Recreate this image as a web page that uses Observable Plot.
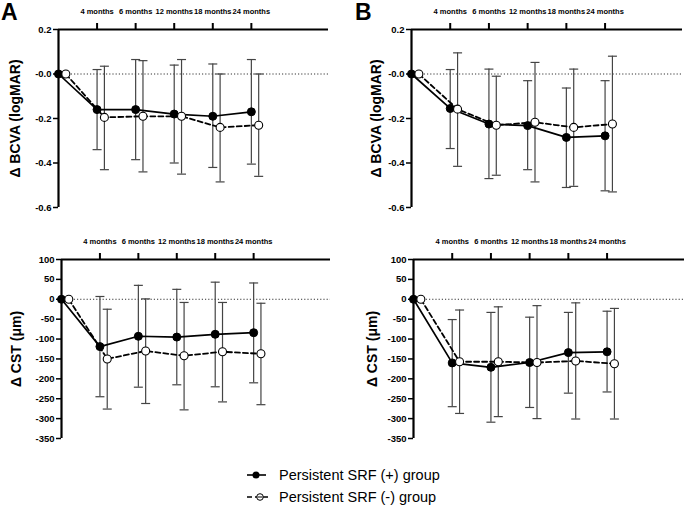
<!DOCTYPE html>
<html><head><meta charset="utf-8">
<script src="https://cdn.jsdelivr.net/npm/d3@7"></script>
<script src="https://cdn.jsdelivr.net/npm/@observablehq/plot@0.6"></script>
<style>
body{margin:0;background:#fff;}
#root{position:relative;width:685px;height:506px;overflow:hidden;font-family:"Liberation Sans",Arial,sans-serif;color:#000;}
.panel{position:absolute;}
.letter{position:absolute;font-weight:bold;font-size:23px;line-height:18px;}
.legtext{position:absolute;left:279px;font-size:14.5px;line-height:20px;white-space:nowrap;}
</style></head><body><div id="root"></div>
<script>
// ---- data ----
const timepoints = [0, 1, 2, 3, 4, 5];
const monthTicks = [1, 2, 3, 4, 5];
const monthLabels = ["4 months", "6 months", "12 months", "18 months", "24 months"];
const seriesNames = ["Persistent SRF (+) group", "Persistent SRF (-) group"];

const bcvaTicks = [0.2, 0, -0.2, -0.4, -0.6];
const bcvaTickLabels = ["0.2", "-0.0", "-0.2", "-0.4", "-0.6"];
const cstTicks = [100, 50, 0, -50, -100, -150, -200, -250, -300, -350];
const cstTickLabels = ["100", "50", "0", "-50", "-100", "-150", "-200", "-250", "-300", "-350"];

// Panel A – BCVA
const bcvaA_posMean = [0, -0.16, -0.16, -0.18, -0.19, -0.17];
const bcvaA_posLo   = [0, -0.34, -0.385, -0.40, -0.42, -0.405];
const bcvaA_posHi   = [0, 0.02, 0.065, 0.04, 0.045, 0.065];
const bcvaA_negMean = [0, -0.195, -0.19, -0.19, -0.24, -0.23];
const bcvaA_negLo   = [0, -0.43, -0.44, -0.45, -0.485, -0.46];
const bcvaA_negHi   = [0, 0.035, 0.06, 0.065, 0.0, 0.0];
// Panel B – BCVA
const bcvaB_posMean = [0, -0.155, -0.225, -0.232, -0.285, -0.278];
const bcvaB_posLo   = [0, -0.335, -0.47, -0.43, -0.51, -0.525];
const bcvaB_posHi   = [0, 0.02, 0.022, -0.03, -0.063, -0.03];
const bcvaB_negMean = [0, -0.158, -0.23, -0.217, -0.24, -0.225];
const bcvaB_negLo   = [0, -0.415, -0.455, -0.485, -0.505, -0.53];
const bcvaB_negHi   = [0, 0.095, -0.01, 0.052, 0.022, 0.08];
// Panel A – CST
const cstA_posMean = [0, -119, -93, -95, -88, -84];
const cstA_posLo   = [0, -245, -221, -215, -220, -210];
const cstA_posHi   = [0, 7, 35, 25, 43, 41];
const cstA_negMean = [0, -150, -130, -142, -132, -137];
const cstA_negLo   = [0, -276, -262, -278, -258, -265];
const cstA_negHi   = [0, -25, 1, -8, -8, -10];
// Panel B – CST
const cstB_posMean = [0, -160, -171, -159, -134, -132];
const cstB_posLo   = [0, -270, -309, -272, -236, -233];
const cstB_posHi   = [0, -51, -33, -45, -33, -30];
const cstB_negMean = [0, -157, -157, -159, -155, -162];
const cstB_negLo   = [0, -287, -295, -300, -301, -301];
const cstB_negHi   = [0, -27, -19, -16, -9, -23];

// ---- drawing ----
const dashOffset = 0.19;
const cap = {draw(ctx, size) { const w = Math.sqrt(size / Math.PI); ctx.moveTo(-w, 0); ctx.lineTo(w, 0); }};
const root = document.getElementById("root");

function panel(o) {
  const rows = (mean, lo, hi, off) => mean.map((m, i) => ({x: timepoints[i] + off, y: m, lo: lo[i], hi: hi[i], i}));
  const P = rows(o.pm, o.pl, o.ph, 0);
  const N = rows(o.nm, o.nl, o.nh, dashOffset);
  const bars = [...P, ...N].filter(d => d.i > 0);
  const [ymin, ymax] = o.yDomain;
  const chart = Plot.plot({
    width: o.width, height: o.height,
    marginLeft: o.mL, marginRight: o.mR, marginTop: 29, marginBottom: o.mB,
    x: {domain: [0, 7], axis: null},
    y: {domain: o.yDomain, axis: null},
    style: {fontFamily: "'Liberation Sans', Arial, sans-serif", background: "transparent", overflow: "visible", color: "#000"},
    marks: [
      Plot.ruleY([0], {stroke: "#000", strokeWidth: 0.8, strokeDasharray: "1.2,2"}),
      Plot.ruleX(bars, {x: "x", y1: "lo", y2: "hi", stroke: "#444", strokeWidth: 1.2}),
      Plot.dot(bars, {x: "x", y: "lo", symbol: cap, r: 4.5, stroke: "#444", strokeWidth: 1.2, fill: "none"}),
      Plot.dot(bars, {x: "x", y: "hi", symbol: cap, r: 4.5, stroke: "#444", strokeWidth: 1.2, fill: "none"}),
      Plot.line(P, {x: "x", y: "y", stroke: "#000", strokeWidth: 1.7}),
      Plot.line(N, {x: "x", y: "y", stroke: "#000", strokeWidth: 1.8, strokeDasharray: "5,3"}),
      Plot.dot(P, {x: "x", y: "y", r: 4, fill: "#000", stroke: "#000", strokeWidth: 1}),
      Plot.dot(N, {x: "x", y: "y", r: 4, fill: "#fff", stroke: "#000", strokeWidth: 1.1}),
      Plot.ruleX([0], {y1: ymin, y2: ymax, stroke: "#000", strokeWidth: 2.2}),
      Plot.ruleY([ymax], {stroke: "#000", strokeWidth: 2.2}),
      Plot.axisY({ticks: o.yTicks, tickFormat: d => o.yTickLabels[o.yTicks.indexOf(d)], tickSize: 5, tickPadding: 2,
                  strokeWidth: 1.5, fontSize: 9.5, fontWeight: "bold", label: null}),
      Plot.axisX({anchor: "top", ticks: monthTicks, tickFormat: d => monthLabels[monthTicks.indexOf(d)],
                  tickSize: 7, tickPadding: 9, strokeWidth: 2, fontSize: 7.5, fontWeight: "bold", label: null}),
      Plot.text([o.yLabel], {text: d => d, frameAnchor: "left", textAnchor: "middle", lineAnchor: "middle",
                  dx: o.labelX - o.mL, rotate: -90, fontSize: 14, fontWeight: "bold", fill: "#000"})
    ]
  });
  chart.classList.add("panel");
  chart.style.left = o.left + "px";
  chart.style.top = o.top + "px";
  root.appendChild(chart);
}

panel({left: 0, top: 0, width: 340, height: 225, mL: 58, mR: 12, mB: 18,
  yDomain: [-0.6, 0.2], yTicks: bcvaTicks, yTickLabels: bcvaTickLabels, yLabel: "Δ BCVA (logMAR)", labelX: 15,
  pm: bcvaA_posMean, pl: bcvaA_posLo, ph: bcvaA_posHi, nm: bcvaA_negMean, nl: bcvaA_negLo, nh: bcvaA_negHi});
panel({left: 340, top: 0, width: 345, height: 225, mL: 71, mR: 3, mB: 18,
  yDomain: [-0.6, 0.2], yTicks: bcvaTicks, yTickLabels: bcvaTickLabels, yLabel: "Δ BCVA (logMAR)", labelX: 36,
  pm: bcvaB_posMean, pl: bcvaB_posLo, ph: bcvaB_posHi, nm: bcvaB_negMean, nl: bcvaB_negLo, nh: bcvaB_negHi});
panel({left: 0, top: 230, width: 340, height: 225, mL: 61, mR: 10, mB: 17,
  yDomain: [-350, 100], yTicks: cstTicks, yTickLabels: cstTickLabels, yLabel: "Δ CST (μm)", labelX: 16,
  pm: cstA_posMean, pl: cstA_posLo, ph: cstA_posHi, nm: cstA_negMean, nl: cstA_negLo, nh: cstA_negHi});
panel({left: 340, top: 230, width: 345, height: 225, mL: 73, mR: 1, mB: 17,
  yDomain: [-350, 100], yTicks: cstTicks, yTickLabels: cstTickLabels, yLabel: "Δ CST (μm)", labelX: 32,
  pm: cstB_posMean, pl: cstB_posLo, ph: cstB_posHi, nm: cstB_negMean, nl: cstB_negLo, nh: cstB_negHi});

// panel letters
[["A", 1], ["B", 355]].forEach(([t, x]) => {
  const d = document.createElement("div"); d.className = "letter"; d.textContent = t;
  d.style.left = x + "px"; d.style.top = "3px"; root.appendChild(d);
});

// legend
const ns = "http://www.w3.org/2000/svg";
const leg = document.createElementNS(ns, "svg");
leg.setAttribute("width", 34); leg.setAttribute("height", 40);
leg.style.position = "absolute"; leg.style.left = "244px"; leg.style.top = "465px";
leg.innerHTML =
  '<line x1="3" x2="22" y1="10" y2="10" stroke="#000" stroke-width="1.6"/>' +
  '<circle cx="12" cy="10" r="3.5" fill="#000"/>' +
  '<line x1="3" x2="25" y1="32" y2="32" stroke="#000" stroke-width="1.5" stroke-dasharray="5,3"/>' +
  '<circle cx="16" cy="32" r="3.3" fill="#fff" stroke="#000" stroke-width="1"/>' +
  '<line x1="13.5" x2="18.5" y1="32" y2="32" stroke="#000" stroke-width="1"/>';
root.appendChild(leg);
seriesNames.forEach((s, i) => {
  const d = document.createElement("div"); d.className = "legtext"; d.textContent = s;
  d.style.top = (465 + i * 22) + "px"; root.appendChild(d);
});
</script></body></html>
